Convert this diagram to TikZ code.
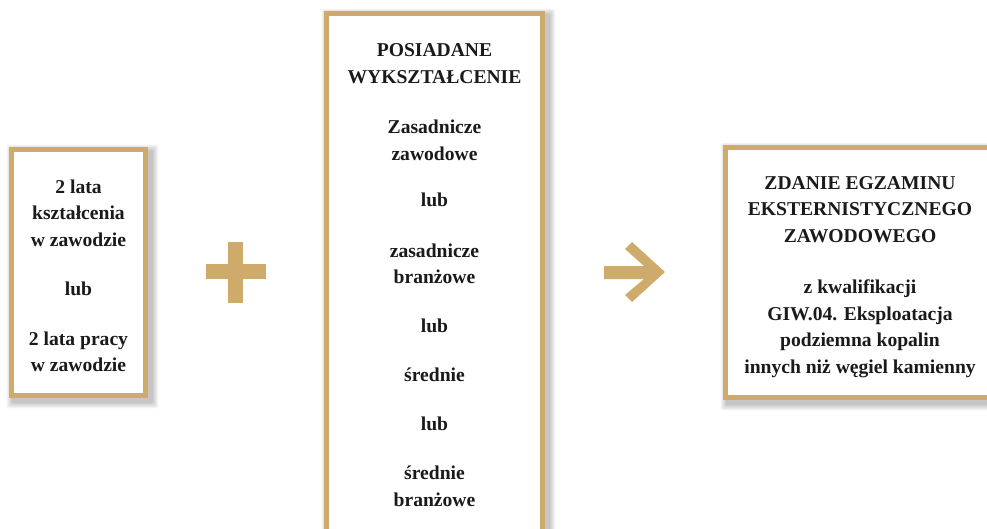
\documentclass[tikz,border=0pt]{standalone}
\usepackage{fontspec}
\setmainfont{Liberation Serif}
\usetikzlibrary{backgrounds}
\definecolor{gold}{HTML}{CFAB6B}
\definecolor{ink}{HTML}{1A1A1A}
\tikzset{
  frame/.style={draw=gold, line width=5pt, fill=white},
  shade step/.style={fill=black, opacity=0.03, rounded corners=2pt},
  txt/.style={align=center, text=ink, font=\bfseries\fontsize{19.6}{26.5}\selectfont}
}

\begin{document}
\begin{tikzpicture}[x=1pt, y=-1pt]
  \clip (0,0) rectangle (987,528);
  % boxes
  \node[frame, minimum width=134pt, minimum height=246pt] (lbox) at (78.5,272.5) {};
  \node[frame, minimum width=216pt, minimum height=532pt] (mbox) at (434.5,279.5) {};
  \node[frame, minimum width=269pt, minimum height=250pt] (rbox) at (860,272.5) {};
  % soft shadows
  \begin{scope}[on background layer]
    \foreach \b in {lbox,mbox,rbox}
      \foreach \i in {1,...,8}
        \fill[shade step] ([xshift=(4-\i*0.8)*1pt, yshift=(-4-\i*0.8)*1pt]\b.south west)
          rectangle ([xshift=(4+\i*0.8)*1pt, yshift=(-4+\i*0.8)*1pt]\b.north east);
  \end{scope}
  % texts
  \node[txt] (ltext) at (lbox.center) [yshift=-3.5pt] {2 lata\\kształcenia\\w zawodzie\\[23pt]lub\\[23pt]2 lata pracy\\w zawodzie};
  \node[txt] (mtext) at (434.5,275) {POSIADANE\\WYKSZTAŁCENIE\\[24pt]Zasadnicze\\zawodowe\\[20pt]lub\\[24pt]zasadnicze\\branżowe\\[22pt]lub\\[23pt]średnie\\[22pt]lub\\[23pt]średnie\\branżowe};
  \node[txt] (rtext) at (860,277) {ZDANIE EGZAMINU\\EKSTERNISTYCZNEGO\\ZAWODOWEGO\\[25pt]z kwalifikacji\\GIW.04. Eksploatacja\\podziemna kopalin\\innych niż węgiel kamienny};
  % plus
  \fill[gold] (206,264) rectangle (266,279);
  \fill[gold] (228,242) rectangle (243,303);
  % arrow
  \fill[gold] (604,266) -- (644,266) -- (625,249) -- (632,242) -- (665,272) -- (632,302)
    -- (625,295) -- (644,279) -- (604,279) -- cycle;
\end{tikzpicture}
\end{document}
